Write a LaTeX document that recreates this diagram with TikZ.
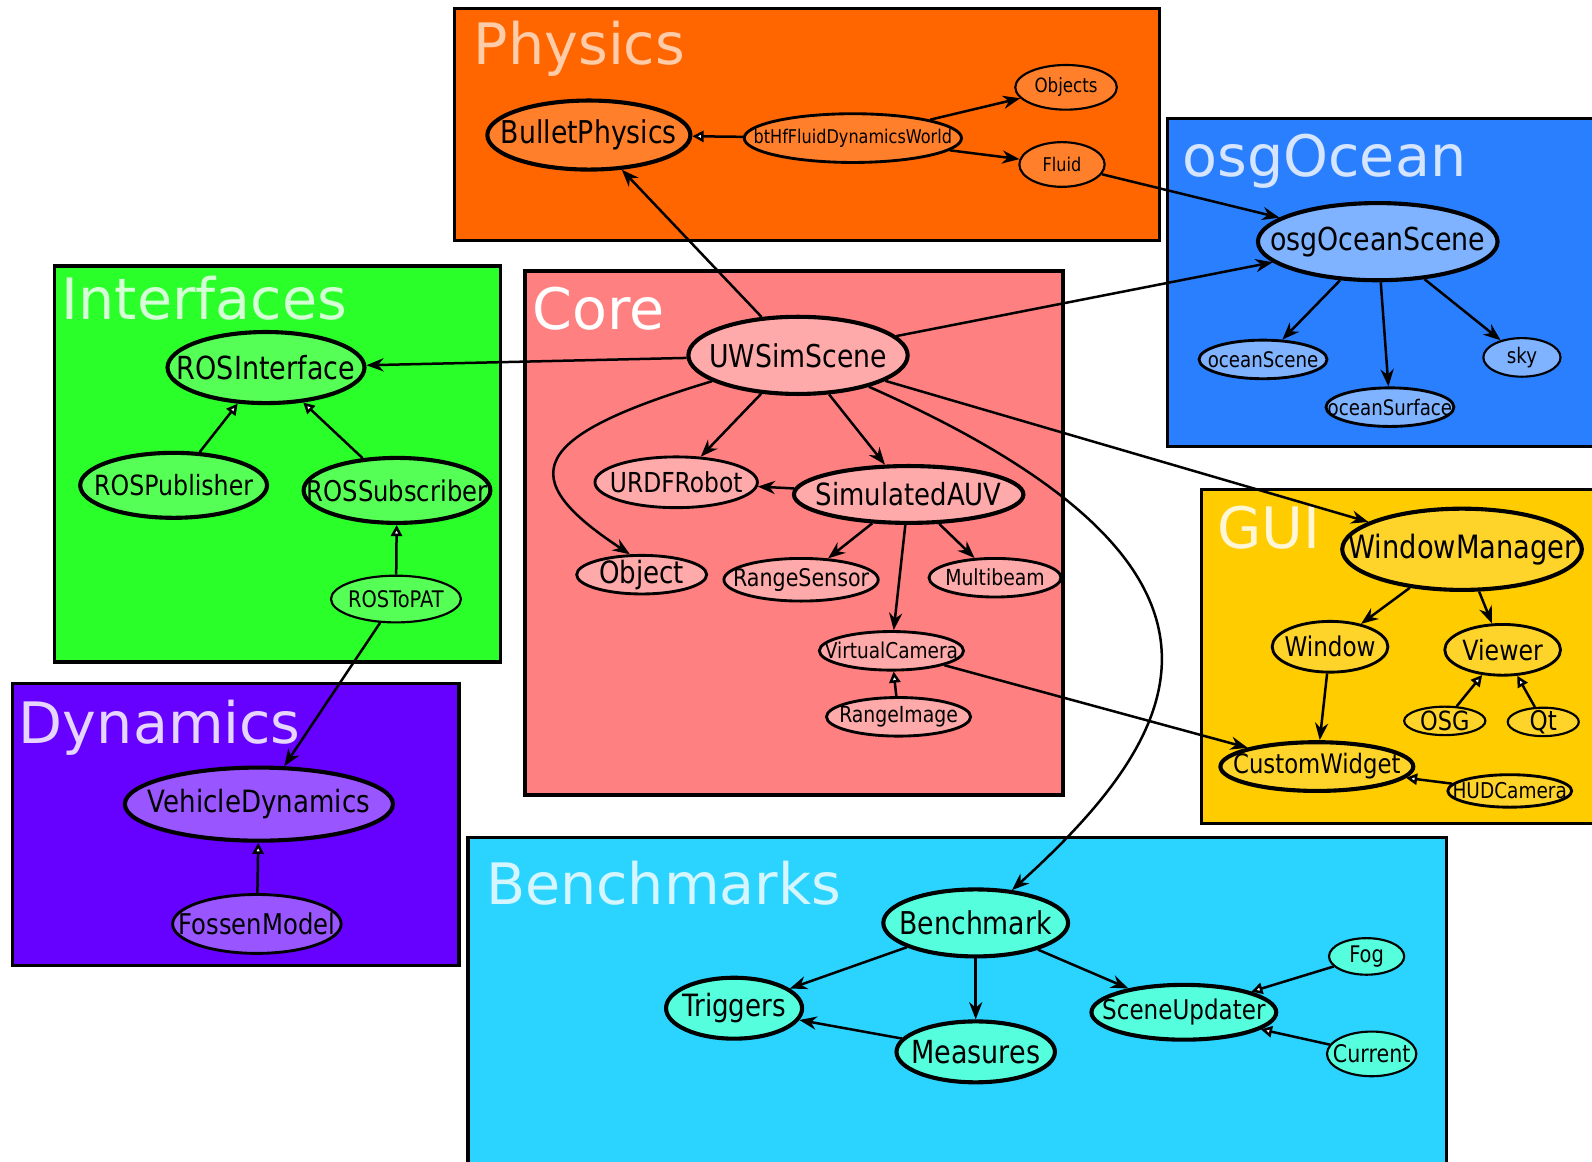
\documentclass[tikz,border=0pt]{standalone}
\usepackage{fontspec}
\setmainfont{DejaVu Sans}
\newfontfamily\lblfont{DejaVu Sans}[FakeStretch=0.85]
\usepackage{tikz}
\usetikzlibrary{shapes.geometric}
\usetikzlibrary{arrows.meta}

\definecolor{physbox}{HTML}{FF6600}
\definecolor{physnode}{HTML}{FF7F2A}
\definecolor{phystext}{HTML}{FFCCAA}
\definecolor{oceanbox}{HTML}{2A7FFF}
\definecolor{oceannode}{HTML}{80B3FF}
\definecolor{oceantext}{HTML}{D5E5FF}
\definecolor{ifacebox}{HTML}{2AFF2A}
\definecolor{ifacenode}{HTML}{55FF55}
\definecolor{ifacetext}{HTML}{D5FFD5}
\definecolor{corebox}{HTML}{FF8080}
\definecolor{corenode}{HTML}{FFAAAA}
\definecolor{guibox}{HTML}{FFCC00}
\definecolor{guinode}{HTML}{FFD42A}
\definecolor{guitext}{HTML}{FFF6D5}
\definecolor{dynbox}{HTML}{6600FF}
\definecolor{dynnode}{HTML}{9955FF}
\definecolor{dyntext}{HTML}{E5D5FF}
\definecolor{benchbox}{HTML}{2AD4FF}
\definecolor{benchnode}{HTML}{55FFDD}
\definecolor{benchtext}{HTML}{D5F6FF}

\tikzset{
  cls/.style n args={3}{ellipse, draw, inner sep=-30pt,
    minimum width=#1*0.01cm, minimum height=#2*0.01cm,
    font=\lblfont\fontsize{#3}{#3}\selectfont},
  thickrim/.style={line width=1.15pt},
  midrim/.style={line width=0.8pt},
  thinrim/.style={line width=0.6pt},
  pkg/.style={draw, line width=0.9pt},
  pkgtitle/.style={anchor=base west, inner sep=0pt, font=\fontsize{16}{16}\selectfont},
  arr/.style={-{Stealth[length=1.7mm,width=1.3mm,inset=0.55mm]}, line width=0.7pt},
  inh/.style={-{Triangle[fill=white,length=1.1mm,width=1.1mm]}, line width=0.7pt}
}

\begin{document}
\begin{tikzpicture}[x=0.01cm, y=-0.01cm]
  \useasboundingbox (0,0) rectangle (1568,1144);
  \clip (0,0) rectangle (1568,1144);

  % Packages
  \fill[physbox, pkg, draw=black] (448,8) rectangle (1142,237);
  \fill[oceanbox, pkg, draw=black] (1150,117) rectangle (1590,440);
  \fill[ifacebox, pkg, draw=black] (54,262) rectangle (493,652);
  \fill[corebox, pkg, draw=black] (517,267) rectangle (1047,783);
  \fill[guibox, pkg, draw=black] (1183,482) rectangle (1590,811);
  \fill[dynbox, pkg, draw=black] (12,673) rectangle (452,951);
  \fill[benchbox, pkg, draw=black] (461,825) rectangle (1425,1170);

  \node[pkgtitle, phystext] (tPhysics) at (466,64) {Physics};
  \node[pkgtitle, oceantext] (tOcean) at (1164,174) {osgOcean};
  \node[pkgtitle, ifacetext] (tIface) at (60,315) {Interfaces};
  \node[pkgtitle, white] (tCore) at (524,325) {Core};
  \node[pkgtitle, guitext] (tGui) at (1198,540) {GUI};
  \node[pkgtitle, dyntext] (tDyn) at (18,732) {Dynamics};
  \node[pkgtitle, benchtext] (tBench) at (478,891) {Benchmarks};

  % Physics
  \node[cls={200}{68}{8.8}, thickrim, fill=physnode] (BulletPhysics) at (580,133) {BulletPhysics};
  \node[cls={214}{48}{5.3}, midrim, fill=physnode] (btHf) at (840,136) {btHfFluidDynamicsWorld};
  \node[cls={100}{44}{5.5}, thinrim, fill=physnode] (Objects) at (1050,86) {Objects};
  \node[cls={84}{44}{5.3}, thinrim, fill=physnode] (Fluid) at (1046,162) {Fluid};

  % osgOcean
  \node[cls={236}{76}{8.85}, thickrim, fill=oceannode] (osgOceanScene) at (1357,238) {osgOceanScene};
  \node[cls={126}{38}{6}, midrim, fill=oceannode] (oceanScene) at (1244,354) {oceanScene};
  \node[cls={126}{38}{6}, midrim, fill=oceannode] (oceanSurface) at (1369,401) {oceanSurface};
  \node[cls={76}{38}{6}, thinrim, fill=oceannode] (sky) at (1499,352) {sky};

  % Interfaces
  \node[cls={194}{70}{8.9}, thickrim, fill=ifacenode] (ROSInterface) at (262,362) {ROSInterface};
  \node[cls={184}{64}{7.8}, thickrim, fill=ifacenode] (ROSPublisher) at (171,478) {ROSPublisher};
  \node[cls={184}{64}{8}, thickrim, fill=ifacenode] (ROSSubscriber) at (391,483) {ROSSubscriber};
  \node[cls={128}{46}{6.4}, thinrim, fill=ifacenode] (ROSToPAT) at (390,590) {ROSToPAT};

  % Core
  \node[cls={216}{76}{8.8}, thickrim, fill=corenode] (UWSimScene) at (786,350) {UWSimScene};
  \node[cls={160}{50}{7.7}, midrim, fill=corenode] (URDFRobot) at (666,475) {URDFRobot};
  \node[cls={226}{56}{8.55}, thickrim, fill=corenode] (SimulatedAUV) at (895,487) {SimulatedAUV};
  \node[cls={128}{38}{8.6}, midrim, fill=corenode] (Object) at (632,566) {Object};
  \node[cls={152}{42}{6.8}, midrim, fill=corenode] (RangeSensor) at (789,571) {RangeSensor};
  \node[cls={130}{38}{6.2}, midrim, fill=corenode] (Multibeam) at (980,569) {Multibeam};
  \node[cls={142}{38}{6.1}, midrim, fill=corenode] (VirtualCamera) at (878,641) {VirtualCamera};
  \node[cls={142}{38}{6.2}, midrim, fill=corenode] (RangeImage) at (885,706) {RangeImage};

  % GUI
  \node[cls={236}{80}{9}, thickrim, fill=guinode] (WindowManager) at (1440,541) {WindowManager};
  \node[cls={114}{50}{7.6}, midrim, fill=guinode] (Window) at (1310,637) {Window};
  \node[cls={114}{50}{7.8}, midrim, fill=guinode] (Viewer) at (1480,640) {Viewer};
  \node[cls={80}{28}{7.4}, thinrim, fill=guinode] (OSG) at (1423,710) {OSG};
  \node[cls={70}{28}{7.6}, thinrim, fill=guinode] (Qt) at (1520,711) {Qt};
  \node[cls={190}{48}{7.5}, thickrim, fill=guinode] (CustomWidget) at (1297,755) {CustomWidget};
  \node[cls={122}{32}{6.1}, midrim, fill=guinode] (HUDCamera) at (1487,779) {HUDCamera};

  % Dynamics
  \node[cls={264}{72}{8.6}, thickrim, fill=dynnode] (VehicleDynamics) at (255,792) {VehicleDynamics};
  \node[cls={166}{58}{8}, midrim, fill=dynnode] (FossenModel) at (253,910) {FossenModel};

  % Benchmarks
  \node[cls={182}{66}{8.8}, thickrim, fill=benchnode] (Benchmark) at (961,909) {Benchmark};
  \node[cls={134}{60}{8.6}, thickrim, fill=benchnode] (Triggers) at (723,993) {Triggers};
  \node[cls={156}{60}{8.9}, thickrim, fill=benchnode] (Measures) at (961,1036) {Measures};
  \node[cls={182}{54}{7.6}, thickrim, fill=benchnode] (SceneUpdater) at (1166,997) {SceneUpdater};
  \node[cls={74}{36}{6.4}, thinrim, fill=benchnode] (Fog) at (1346,942) {Fog};
  \node[cls={88}{44}{6.8}, thinrim, fill=benchnode] (Current) at (1351,1038) {Current};

  % Dependencies
  \draw[inh] (btHf) -- (BulletPhysics);
  \draw[arr] (btHf) -- (Objects);
  \draw[arr] (btHf) -- (Fluid);
  \draw[arr] (Fluid) -- (osgOceanScene);
  \draw[arr] (osgOceanScene) -- (oceanScene);
  \draw[arr] (osgOceanScene) -- (oceanSurface);
  \draw[arr] (osgOceanScene) -- (sky);
  \draw[inh] (ROSPublisher) -- (ROSInterface);
  \draw[inh] (ROSSubscriber) -- (ROSInterface);
  \draw[inh] (ROSToPAT) -- (ROSSubscriber);
  \draw[arr] (ROSToPAT) -- (VehicleDynamics);
  \draw[inh] (FossenModel) -- (VehicleDynamics);
  \draw[arr] (UWSimScene) -- (BulletPhysics);
  \draw[arr] (UWSimScene) -- (osgOceanScene);
  \draw[arr] (UWSimScene) -- (ROSInterface);
  \draw[arr] (UWSimScene) -- (WindowManager);
  \draw[arr] (UWSimScene) -- (URDFRobot);
  \draw[arr] (UWSimScene) -- (SimulatedAUV);
  \draw[arr] (UWSimScene) .. controls (520,430) and (505,470) .. (Object.120);
  \draw[arr] (UWSimScene) .. controls (1260,560) and (1170,720) .. (Benchmark);
  \draw[arr] (SimulatedAUV) -- (URDFRobot);
  \draw[arr] (SimulatedAUV) -- (RangeSensor);
  \draw[arr] (SimulatedAUV) -- (Multibeam);
  \draw[arr] (SimulatedAUV) -- (VirtualCamera);
  \draw[inh] (RangeImage) -- (VirtualCamera);
  \draw[arr] (VirtualCamera) -- (CustomWidget);
  \draw[arr] (WindowManager) -- (Window);
  \draw[arr] (WindowManager) -- (Viewer);
  \draw[arr] (Window) -- (CustomWidget);
  \draw[inh] (OSG) -- (Viewer);
  \draw[inh] (Qt) -- (Viewer);
  \draw[inh] (HUDCamera) -- (CustomWidget);
  \draw[arr] (Benchmark) -- (Triggers);
  \draw[arr] (Benchmark) -- (Measures);
  \draw[arr] (Benchmark) -- (SceneUpdater);
  \draw[arr] (Measures) -- (Triggers);
  \draw[inh] (Fog) -- (SceneUpdater);
  \draw[inh] (Current) -- (SceneUpdater);
\end{tikzpicture}
\end{document}
